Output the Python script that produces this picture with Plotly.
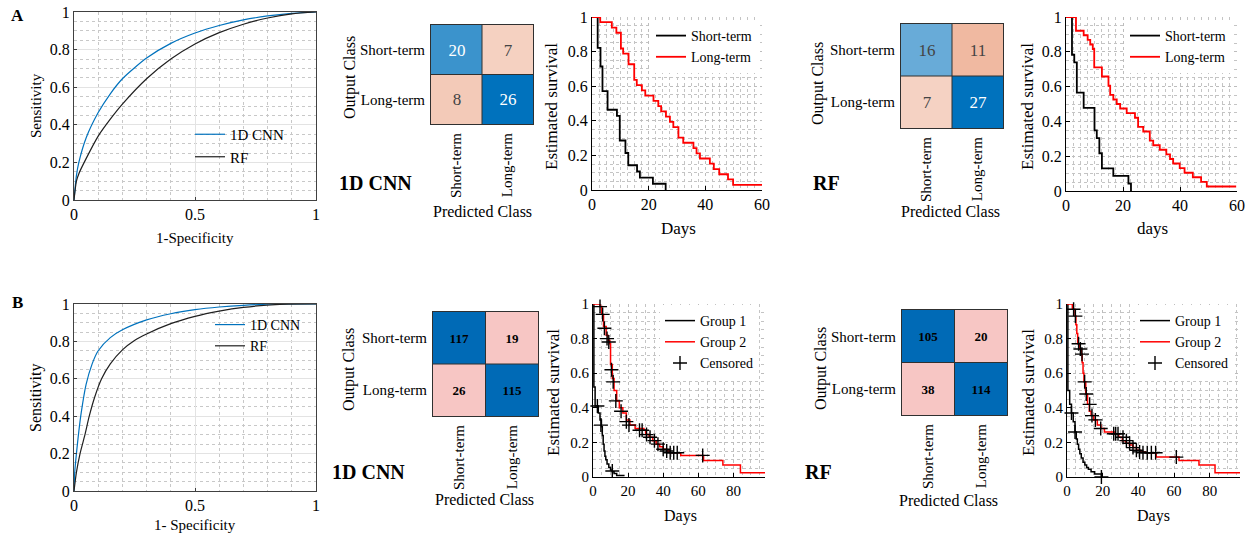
import plotly.graph_objects as go

W, H = 1247, 538
FONT = "Liberation Serif"

# ---------------- ROC data ----------------
roc_a_cnn_fpr = [0, 0.01, 0.02, 0.05, 0.1, 0.15, 0.2, 0.3, 0.4, 0.5, 0.6, 0.7, 0.8, 0.9, 1.0]
roc_a_cnn_tpr = [0, 0.13, 0.20, 0.33, 0.465, 0.565, 0.645, 0.755, 0.833, 0.888, 0.928, 0.958, 0.979, 0.993, 1.0]
roc_a_rf_fpr = [0, 0.01, 0.02, 0.05, 0.1, 0.15, 0.2, 0.3, 0.4, 0.5, 0.6, 0.7, 0.8, 0.9, 1.0]
roc_a_rf_tpr = [0, 0.10, 0.14, 0.22, 0.34, 0.43, 0.51, 0.645, 0.75, 0.83, 0.89, 0.935, 0.968, 0.99, 1.0]

roc_b_cnn_fpr = [0, 0.003, 0.01, 0.02, 0.03, 0.05, 0.075, 0.1, 0.15, 0.2, 0.3, 0.4, 0.5, 0.6, 0.7, 0.85, 1.0]
roc_b_cnn_tpr = [0, 0.10, 0.20, 0.32, 0.42, 0.57, 0.68, 0.75, 0.82, 0.862, 0.915, 0.948, 0.97, 0.984, 0.993, 1.0, 1.0]
roc_b_rf_fpr = [0, 0.01, 0.025, 0.045, 0.063, 0.085, 0.114, 0.15, 0.2, 0.25, 0.3, 0.4, 0.5, 0.6, 0.7, 0.85, 1.0]
roc_b_rf_tpr = [0, 0.10, 0.20, 0.30, 0.40, 0.50, 0.60, 0.68, 0.755, 0.805, 0.84, 0.895, 0.934, 0.962, 0.982, 0.998, 1.0]

# ---------------- Confusion matrices ----------------
cm_classes = ["Short-term", "Long-term"]
cm_a_cnn = [[20, 7], [8, 26]]
cm_a_rf = [[16, 11], [7, 27]]
cm_b_cnn = [[117, 19], [26, 115]]
cm_b_rf = [[105, 20], [38, 114]]

# ---------------- Kaplan-Meier (A) ----------------
km_a_cnn_short_t = [0, 2, 3, 3.7, 5.5, 8.8, 9.8, 11.8, 12.8, 15.9, 16.9, 21.5, 26]
km_a_cnn_short_s = [1, 0.821, 0.714, 0.571, 0.464, 0.429, 0.286, 0.214, 0.143, 0.107, 0.071, 0.036, 0]
km_a_cnn_long_t = [0, 2.9, 7.0, 8.6, 10.2, 11.0, 12.9, 14.9, 15.8, 17.6, 18.8, 21.7, 23.4, 24.4,
                   26.1, 27.5, 28.7, 30.5, 32.2, 35.8, 36.9, 38.1, 41.6, 43.0, 44.9, 48.0, 49.8, 60]
km_a_cnn_long_s = [1, 0.970, 0.939, 0.909, 0.818, 0.788, 0.727, 0.636, 0.606, 0.576, 0.545, 0.515, 0.485, 0.455,
                   0.424, 0.394, 0.364, 0.303, 0.273, 0.242, 0.212, 0.182, 0.152, 0.121, 0.091, 0.061, 0.030, 0.030]

km_a_rf_short_t = [0, 2.1, 2.9, 3.8, 6.2, 10, 10.8, 11.7, 12.6, 16.6, 21.9, 22.8]
km_a_rf_short_s = [1, 0.783, 0.739, 0.565, 0.478, 0.348, 0.304, 0.217, 0.130, 0.087, 0.043, 0]
km_a_rf_long_t = [0, 3.5, 6.2, 7.6, 8.5, 9.4, 9.9, 12.6, 14.9, 15.5, 16.6, 17.8, 19, 21.3, 24.2, 25.3,
                  27.1, 29.4, 30.6, 32.9, 35.2, 36.5, 37.6, 39.9, 41.6, 44.5, 47.4, 49.4, 59.7]
km_a_rf_long_s = [1, 0.921, 0.895, 0.868, 0.842, 0.816, 0.711, 0.658, 0.605, 0.553, 0.526, 0.5, 0.474, 0.447,
                  0.421, 0.368, 0.342, 0.289, 0.263, 0.237, 0.21, 0.184, 0.158, 0.132, 0.105, 0.079, 0.053,
                  0.026, 0.026]

# ---------------- Kaplan-Meier (B) ----------------
km_b_cnn_g1_t = [0, 0.5, 1.2, 3, 4, 4.8, 5.3, 5.8, 6.3, 6.8, 7.3, 8, 9, 10, 11, 12, 13.5, 18]
km_b_cnn_g1_s = [1, 0.52, 0.41, 0.37, 0.33, 0.29, 0.24, 0.19, 0.15, 0.12, 0.10, 0.075, 0.055, 0.04, 0.03,
                 0.02, 0.008, 0.008]
km_b_cnn_g2_t = [0, 4, 5, 6, 7.5, 8.5, 9.5, 10, 11, 12, 13.5, 15, 17, 19, 21, 24, 29, 30, 32, 34, 36, 38,
                 40, 42, 44, 50, 63, 74, 84, 98]
km_b_cnn_g2_s = [1, 0.985, 0.94, 0.87, 0.82, 0.79, 0.77, 0.65, 0.57, 0.50, 0.44, 0.40, 0.37, 0.33, 0.30,
                 0.28, 0.27, 0.245, 0.23, 0.21, 0.19, 0.175, 0.16, 0.15, 0.14, 0.125, 0.096, 0.07, 0.025, 0.025]
km_b_cnn_c1_t = [2.5, 4.5, 11]
km_b_cnn_c1_s = [0.41, 0.30, 0.035]
km_b_cnn_c2_t = [4, 5.5, 6.5, 8, 9, 10.5, 11.5, 13, 16, 19, 20.5, 26.5, 28, 30.5, 32.5, 35, 37, 40, 42,
                 44, 46, 48, 62.5]
km_b_cnn_c2_s = [0.985, 0.94, 0.86, 0.80, 0.78, 0.62, 0.55, 0.44, 0.38, 0.32, 0.30, 0.27, 0.27, 0.245,
                 0.23, 0.21, 0.19, 0.16, 0.15, 0.14, 0.14, 0.14, 0.125]

km_b_rf_g1_t = [0, 0.5, 1.5, 2.5, 3.5, 4.5, 5.2, 5.8, 6.5, 7.2, 8, 9, 10, 11, 12, 13.5, 15.5, 19.3]
km_b_rf_g1_s = [1, 0.5, 0.42, 0.37, 0.32, 0.26, 0.22, 0.19, 0.16, 0.135, 0.11, 0.085, 0.07, 0.055, 0.045,
                0.03, 0.018, 0.0]
km_b_rf_g2_t = [0, 3, 4.5, 5, 5.5, 6, 7, 8, 8.5, 9, 9.5, 10.5, 11.5, 12.5, 13.5, 15, 17, 19, 21, 27, 29,
                31, 33, 35, 37, 39, 41, 44, 50, 62.8, 74, 83, 97]
km_b_rf_g2_s = [1, 0.97, 0.93, 0.88, 0.83, 0.77, 0.74, 0.71, 0.66, 0.60, 0.55, 0.48, 0.42, 0.38, 0.355,
                0.33, 0.30, 0.28, 0.26, 0.25, 0.23, 0.21, 0.195, 0.185, 0.17, 0.155, 0.145, 0.14, 0.115,
                0.095, 0.07, 0.025, 0.025]
km_b_rf_c1_t = [2.5, 4.5, 19.3]
km_b_rf_c1_s = [0.37, 0.26, 0.0]
km_b_rf_c2_t = [3.7, 4.7, 6.5, 7.5, 8.4, 9.9, 10.8, 12.7, 14, 15.9, 18.9, 26.2, 27.3, 28.6, 31.4, 33.3,
                35.1, 37, 38.9, 40.7, 42.6, 45, 47.3, 49.7, 61.3]
km_b_rf_c2_s = [0.97, 0.93, 0.77, 0.74, 0.71, 0.55, 0.48, 0.42, 0.355, 0.33, 0.28, 0.25, 0.25, 0.25,
                0.23, 0.21, 0.195, 0.17, 0.155, 0.145, 0.14, 0.14, 0.14, 0.14, 0.115]

# ---------------- helpers ----------------
def X(px):
    return px / W


def Y(py):
    return 1 - py / H


BLUE = "rgb(0,114,189)"
RED = "rgb(255,0,0)"

# panel boxes in pixels: left, right, top, bottom
boxes = {
    1: (74, 316, 12, 200),
    2: (431, 533, 25, 124),
    3: (592, 762, 17, 190),
    4: (901, 1003, 24, 128),
    5: (1066, 1237, 17, 191),
    6: (74, 316, 304, 491),
    7: (433, 538, 312, 416),
    8: (593, 765, 304, 477),
    9: (902, 1007, 310, 415),
    10: (1067, 1240, 304, 477),
}

fig = go.Figure()
layout = dict(
    width=W, height=H, margin=dict(l=0, r=0, t=0, b=0, pad=0, autoexpand=False),
    paper_bgcolor="white", plot_bgcolor="white",
    font=dict(family=FONT, color="black", size=15),
    annotations=[], shapes=[],
)


def ref(i, kind):
    return kind + ("" if i == 1 else str(i))


def roc_axes(i, tsize):
    l, r, t, b = boxes[i]
    common = dict(showline=True, mirror=True, linecolor="#404040", linewidth=1,
                  ticks="inside", ticklen=3, tickcolor="#404040", zeroline=False,
                  showgrid=True, gridcolor="#E3E3E3", gridwidth=1, automargin=False,
                  tickfont=dict(family=FONT, size=tsize))
    layout[ref(i, "xaxis")] = dict(domain=[X(l), X(r)], anchor=ref(i, "y"), range=[0, 1],
                                  tickvals=[0, 0.5, 1], ticktext=["0", "0.5", "1"],
                                  minor=dict(dtick=0.1, tick0=0, showgrid=True, gridcolor="#C8C8C8",
                                             griddash="dot"), **common)
    layout[ref(i, "yaxis")] = dict(domain=[Y(b), Y(t)], anchor=ref(i, "x"), range=[0, 1],
                                  tickvals=[0, 0.2, 0.4, 0.6, 0.8, 1],
                                  minor=dict(dtick=0.05, tick0=0, showgrid=True, gridcolor="#C8C8C8",
                                             griddash="dot"), **common)


def km_axes(i, xmax, xticks, minor_x, tsize):
    l, r, t, b = boxes[i]
    common = dict(showline=True, mirror=False, linecolor="black", linewidth=1,
                  ticks="inside", ticklen=4, tickcolor="black", zeroline=False,
                  showgrid=True, gridcolor="#BDBDBD", griddash="dot", gridwidth=1, automargin=False,
                  tickfont=dict(family=FONT, size=tsize), layer="above traces")
    layout[ref(i, "xaxis")] = dict(domain=[X(l), X(r)], anchor=ref(i, "y"), range=[0, xmax],
                                  tickvals=xticks,
                                  minor=dict(dtick=minor_x, tick0=0, showgrid=True, gridcolor="#C4C4C4",
                                             griddash="dot"), **common)
    layout[ref(i, "yaxis")] = dict(domain=[Y(b), Y(t)], anchor=ref(i, "x"), range=[0, 1],
                                  tickvals=[0, 0.2, 0.4, 0.6, 0.8, 1],
                                  minor=dict(dtick=0.05, tick0=0, showgrid=True, gridcolor="#C4C4C4",
                                             griddash="dot"), **common)


def cm_axes(i):
    l, r, t, b = boxes[i]
    n = len(cm_classes)
    common = dict(showline=True, mirror=True, linecolor="#303030", linewidth=1, ticks="",
                  showgrid=False, zeroline=False, tickvals=list(range(n)), ticktext=cm_classes,
                  tickfont=dict(family=FONT, size=15), ticklabelstandoff=2, automargin=False)
    layout[ref(i, "xaxis")] = dict(domain=[X(l), X(r)], anchor=ref(i, "y"), range=[-0.5, n - 0.5],
                                  tickangle=-90, **common)
    layout[ref(i, "yaxis")] = dict(domain=[Y(b), Y(t)], anchor=ref(i, "x"), range=[n - 0.5, -0.5],
                                  **common)
    for k in range(1, n):
        layout["shapes"].append(dict(type="line", xref=ref(i, "x"), yref=ref(i, "y") + " domain",
                                     x0=k - 0.5, x1=k - 0.5, y0=0, y1=1, layer="above",
                                     line=dict(color="#303030", width=1)))
        layout["shapes"].append(dict(type="line", xref=ref(i, "x") + " domain", yref=ref(i, "y"),
                                     x0=0, x1=1, y0=k - 0.5, y1=k - 0.5, layer="above",
                                     line=dict(color="#303030", width=1)))


def signed(cm):
    mx = max(max(row) for row in cm)
    return [[(v / mx) * (1 if a == b else -1) for b, v in enumerate(row)] for a, row in enumerate(cm)]


top_scale = [[0, "rgb(217,83,25)"], [0.5, "rgb(255,255,255)"], [1, "rgb(0,114,189)"]]
bot_scale = [[0, "rgb(247,198,196)"], [0.5, "rgb(247,198,196)"], [0.5, "rgb(0,106,182)"], [1, "rgb(0,106,182)"]]


def add_cm(i, cm, scale, bold):
    n = len(cm_classes)
    fig.add_trace(go.Heatmap(
        z=signed(cm), x=list(range(n)), y=list(range(n)), text=cm,
        texttemplate="<b>%{text}</b>" if bold else "%{text}",
        textfont=dict(family=FONT, size=13 if bold else 17, color="black" if bold else None),
        colorscale=scale, zmin=-1, zmax=1, showscale=False, hoverinfo="skip",
        xaxis=ref(i, "x"), yaxis=ref(i, "y")))


def add_line(i, x, y, color, name, leg, width, shape="hv", show=True):
    fig.add_trace(go.Scatter(x=x, y=y, mode="lines", name=name, legend=leg, showlegend=show,
                             line=dict(color=color, width=width, shape=shape,
                                       **({"smoothing": 0.7} if shape == "spline" else {})),
                             xaxis=ref(i, "x"), yaxis=ref(i, "y"), hoverinfo="skip"))


def add_censor(i, x, y, leg, show):
    fig.add_trace(go.Scatter(x=x, y=y, mode="markers", name="Censored", legend=leg, showlegend=show,
                             marker=dict(symbol="cross-thin", size=10, color="black",
                                         line=dict(color="black", width=1.4)),
                             xaxis=ref(i, "x"), yaxis=ref(i, "y"), hoverinfo="skip", cliponaxis=False))


# ---------------- panels ----------------
roc_axes(1, 16)
add_line(1, roc_a_cnn_fpr, roc_a_cnn_tpr, BLUE, "1D CNN", "legend5", 1.2, "spline")
add_line(1, roc_a_rf_fpr, roc_a_rf_tpr, "#202020", "RF", "legend5", 1.2, "spline")

roc_axes(6, 16)
add_line(6, roc_b_cnn_fpr, roc_b_cnn_tpr, BLUE, "1D CNN", "legend6", 1.2, "spline")
add_line(6, roc_b_rf_fpr, roc_b_rf_tpr, "#202020", "RF", "legend6", 1.2, "spline")

cm_axes(2)
add_cm(2, cm_a_cnn, top_scale, False)
cm_axes(4)
add_cm(4, cm_a_rf, top_scale, False)
cm_axes(7)
add_cm(7, cm_b_cnn, bot_scale, True)
cm_axes(9)
add_cm(9, cm_b_rf, bot_scale, True)

km_axes(3, 60, [0, 20, 40, 60], 2.5, 16)
add_line(3, km_a_cnn_short_t, km_a_cnn_short_s, "black", "Short-term", "legend", 1.8)
add_line(3, km_a_cnn_long_t, km_a_cnn_long_s, RED, "Long-term", "legend", 1.8)

km_axes(5, 60, [0, 20, 40, 60], 2.5, 16)
add_line(5, km_a_rf_short_t, km_a_rf_short_s, "black", "Short-term", "legend2", 1.8)
add_line(5, km_a_rf_long_t, km_a_rf_long_s, RED, "Long-term", "legend2", 1.8)

km_axes(8, 98, [0, 20, 40, 60, 80], 5, 15)
add_line(8, km_b_cnn_g1_t, km_b_cnn_g1_s, "black", "Group 1", "legend3", 1.5)
add_line(8, km_b_cnn_g2_t, km_b_cnn_g2_s, RED, "Group 2", "legend3", 1.5)
add_censor(8, km_b_cnn_c1_t, km_b_cnn_c1_s, "legend3", True)
add_censor(8, km_b_cnn_c2_t, km_b_cnn_c2_s, "legend3", False)

km_axes(10, 97, [0, 20, 40, 60, 80], 5, 15)
add_line(10, km_b_rf_g1_t, km_b_rf_g1_s, "black", "Group 1", "legend4", 1.5)
add_line(10, km_b_rf_g2_t, km_b_rf_g2_s, RED, "Group 2", "legend4", 1.5)
add_censor(10, km_b_rf_c1_t, km_b_rf_c1_s, "legend4", True)
add_censor(10, km_b_rf_c2_t, km_b_rf_c2_s, "legend4", False)

# ---------------- legends ----------------
def leg(xp, yp, size, bg="rgba(255,255,255,1)"):
    return dict(x=X(xp), y=Y(yp), xanchor="left", yanchor="top", bgcolor=bg,
                borderwidth=0, font=dict(family=FONT, size=size), tracegroupgap=0, itemwidth=30)


layout["legend"] = leg(651, 20, 14)
layout["legend2"] = leg(1125, 20, 14)
layout["legend3"] = leg(660, 305, 14)
layout["legend4"] = leg(1135, 305, 14)
layout["legend5"] = leg(190, 118, 15, "rgba(0,0,0,0)")
layout["legend6"] = leg(210, 309, 14, "rgba(0,0,0,0)")

# ---------------- text labels ----------------
def ann(text, xp, yp, size, angle=0, bold=False, xanchor="center"):
    layout["annotations"].append(dict(
        text=f"<b>{text}</b>" if bold else text, x=X(xp), y=Y(yp), xref="paper", yref="paper",
        showarrow=False, textangle=angle, xanchor=xanchor, yanchor="middle",
        font=dict(family=FONT, size=size, color="black")))


ann("A", 17, 16, 17, bold=True)
ann("B", 17, 302, 17, bold=True)
ann("Sensitivity", 36, 106, 15, angle=-90)
ann("1-Specificity", 195, 238, 15)
ann("Sensitivity", 36, 398, 16, angle=-90)
ann("1- Specificity", 195, 525, 15)

ann("Output Class", 350, 78, 16, angle=-90)
ann("Predicted Class", 482, 211, 16)
ann("1D CNN", 375, 183, 20, bold=True)
ann("Estimated survival", 551, 107, 17, angle=-90)
ann("Days", 678, 228, 17)

ann("Output Class", 818, 84, 16, angle=-90)
ann("Predicted Class", 950, 211, 16)
ann("RF", 827, 183, 20, bold=True)
ann("Estimated survival", 1027, 107, 17, angle=-90)
ann("days", 1152, 228, 17)

ann("Output Class", 349, 370, 16, angle=-90)
ann("Predicted Class", 484, 499, 16)
ann("1D CNN", 368, 472, 20, bold=True)
ann("Estimated survival", 553, 393, 17, angle=-90)
ann("Days", 680, 516, 16)

ann("Output Class", 821, 369, 16, angle=-90)
ann("Predicted Class", 948, 500, 16)
ann("RF", 818, 472, 20, bold=True)
ann("Estimated survival", 1028, 393, 17, angle=-90)
ann("Days", 1153, 516, 16)

fig.update_layout(**layout)
fig.write_html("out.html", config={"displayModeBar": False},
               post_script="document.body.style.margin='0px';document.body.style.overflow='hidden';")
